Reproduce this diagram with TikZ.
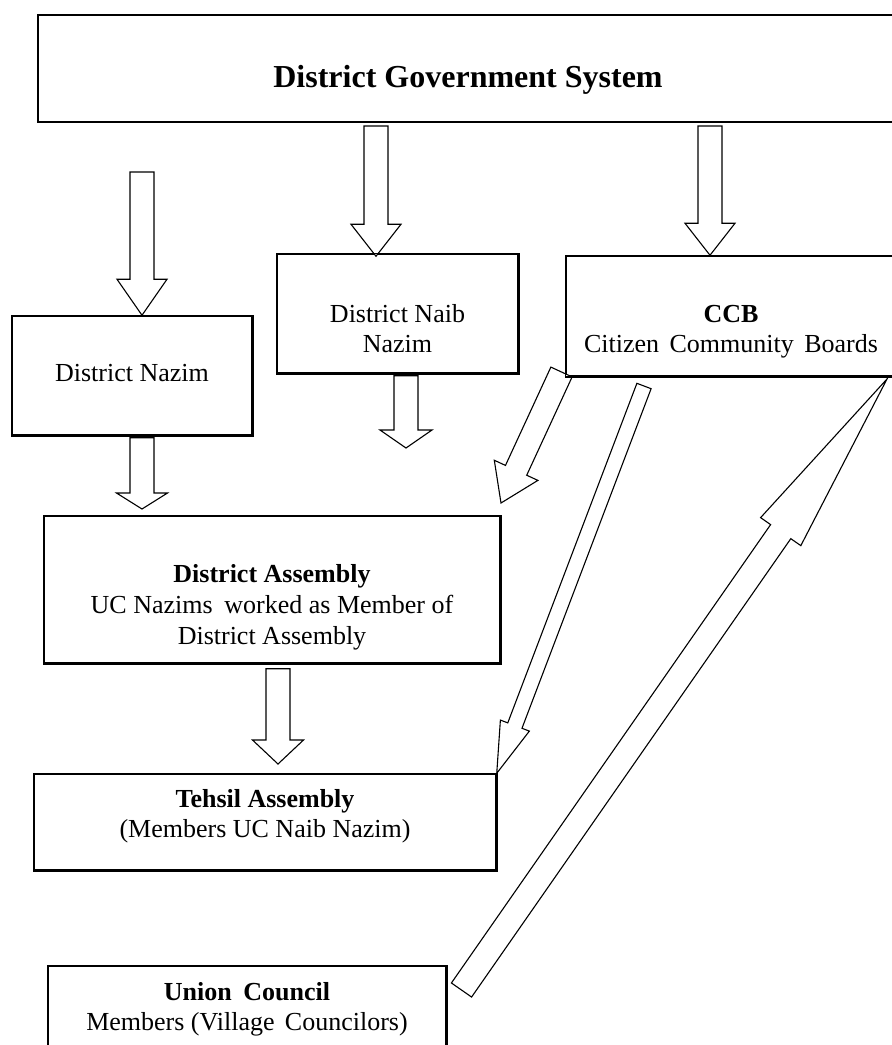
\documentclass[tikz,border=0pt]{standalone}
\usepackage{fontspec}
\setmainfont{Liberation Serif}
\usetikzlibrary{calc}

\tikzset{
  frame/.style={draw=black, line width=1.5pt, rectangle, inner sep=0pt},
  blk/.style={draw=black, fill=white, line width=1.1pt, line join=miter},
  % multi-line labels are placed by the baseline of their last line
  lbl/.style={font=\fontsize{26}{30}\selectfont, align=center, inner sep=0pt, anchor=base},
}

% block arrow: name, tail point, tip point, shaft half width, head half width, head length
\newcommand\blockarrow[6]{%
  \coordinate (#1-n) at ($(#3)!#6!(#2)$);
  \draw[blk] ($(#2)!#4!90:(#3)$) -- ($(#1-n)!#4!90:(#3)$) -- ($(#1-n)!#5!90:(#3)$) -- (#3)
    -- ($(#1-n)!#5!-90:(#3)$) -- ($(#1-n)!#4!-90:(#3)$) -- ($(#2)!#4!-90:(#3)$) -- cycle;
}

\begin{document}
\begin{tikzpicture}[x=1pt,y=-1pt]
\useasboundingbox (0,0) rectangle (892,1045);
\clip (0,0) rectangle (892,1045);

% boxes
\node[frame, minimum width=862pt, minimum height=106pt] (dgs) at (469,68.7) {};
\node[frame, minimum width=240pt, minimum height=119pt] (nazim) at (132,375.5) {};
\node[frame, minimum width=241pt, minimum height=119pt] (naib) at (397.5,313.5) {};
\node[frame, minimum width=330pt, minimum height=120pt] (ccb) at (731,316) {};
\node[frame, minimum width=456pt, minimum height=147pt] (da) at (272,589.5) {};
\node[frame, minimum width=462pt, minimum height=96pt] (ta) at (265,822) {};
\node[frame, minimum width=398pt, minimum height=110pt] (uc) at (247,1021) {};

% labels
\node[lbl, font=\bfseries\fontsize{32}{36}\selectfont] (dgs-t) at (468,87) {District Government System};
\node[lbl] (nazim-t) at (132,381) {District Nazim};
\node[lbl] (naib-t) at (397.5,352) {District Naib\\Nazim};
\node[lbl] (ccb-t) at (731,352) {\textbf{CCB}\\Citizen\hspace{0.4em}Community\hspace{0.4em}Boards};
\node[lbl, font=\fontsize{26}{31}\selectfont] (da-t) at (272,644) {\textbf{District Assembly}\\UC Nazims\hspace{0.45em}worked as Member of\\District Assembly};
\node[lbl] (ta-t) at (265,837) {\textbf{Tehsil Assembly}\\(Members UC Naib Nazim)};
\node[lbl] (uc-t) at (247,1030) {\textbf{Union\hspace{0.45em}Council}\\Members (Village\hspace{0.4em}Councilors)};

% arrow end points
\coordinate (a1s) at (142,172);
\coordinate (a1e) at (nazim.north -| a1s);
\coordinate (a2s) at (376,126);
\coordinate (a2e) at ($(naib.north -| a2s)+(0,3)$);
\coordinate (a3s) at (710,126);
\coordinate (a3e) at (ccb.north -| a3s);
\coordinate (a4s) at ($(naib.south -| 406,0)+(0,2)$);
\coordinate (a4e) at (406,448);
\coordinate (a5s) at ($(nazim.south -| a1s)+(0,2)$);
\coordinate (a5e) at (142,509);
\coordinate (a6s) at ($(da.south -| 278,0)+(0,5)$);
\coordinate (a6e) at (278,764);
\coordinate (d1s) at (561.5,372);
\coordinate (d1e) at (501,503);
\coordinate (d2s) at (644,386);
\coordinate (d2e) at (ta.north east);
\coordinate (d3s) at (461.5,990);
\coordinate (d3e) at (887,379);

% arrows
\blockarrow{a1}{a1s}{a1e}{12pt}{25pt}{36pt}
\blockarrow{a2}{a2s}{a2e}{12pt}{25pt}{32pt}
\blockarrow{a3}{a3s}{a3e}{12pt}{25pt}{32pt}
\blockarrow{a4}{a4s}{a4e}{12pt}{26pt}{18pt}
\blockarrow{a5}{a5s}{a5e}{12pt}{25.5pt}{16pt}
\blockarrow{a6}{a6s}{a6e}{12pt}{25.5pt}{24pt}
\blockarrow{d1}{d1s}{d1e}{11.7pt}{24pt}{36pt}
\blockarrow{d2}{d2s}{d2e}{7.6pt}{15.5pt}{51pt}
\blockarrow{d3}{d3s}{d3e}{12.3pt}{24.5pt}{186pt}

% redraw the box outlines over the arrow fills
\foreach \b in {dgs,nazim,naib,ccb,da,ta,uc}
  \draw[line width=1.5pt] (\b.north west) rectangle (\b.south east);
\end{tikzpicture}
\end{document}
